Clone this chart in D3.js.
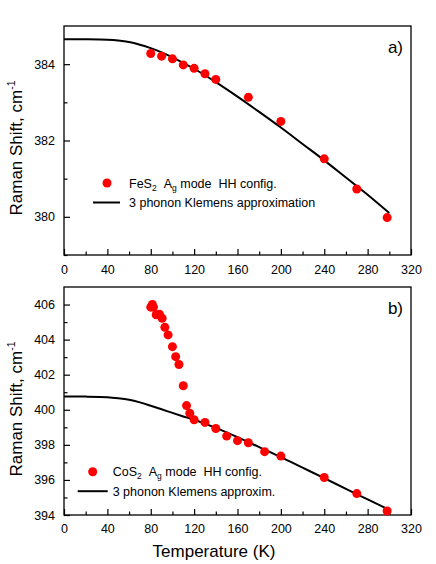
<!DOCTYPE html>
<html>
<head>
<meta charset="utf-8">
<title>Raman shift vs temperature</title>
<script src="https://cdn.jsdelivr.net/npm/d3@7"></script>
<style>
  body { margin: 0; background: #fff; }
  svg text { font-family: "Liberation Sans", Arial, sans-serif; fill: #000; }
</style>
</head>
<body>
<script>
var fesTemp  = [80, 90, 100, 110, 120, 130, 140, 170, 200, 240, 270, 298];
var fesShift = [384.28, 384.21, 384.14, 383.98, 383.89, 383.75, 383.60, 383.13, 382.50, 381.52, 380.73, 379.98];
// FeS2 Klemens curve
var fesFitTemp  = [0, 20, 40, 50, 60, 70, 80, 90, 100, 120, 140, 160, 180, 200, 220, 240, 260, 280, 300];
var fesFitShift = [384.65, 384.65, 384.64, 384.62, 384.58, 384.51, 384.42, 384.31, 384.18, 383.88, 383.53, 383.15, 382.75, 382.34, 381.91, 381.48, 381.03, 380.58, 380.10];

// CoS2 Ag mode, measured points
var cosTemp  = [80, 81.5, 82.5, 85, 88, 90.5, 93, 96, 100, 103, 106, 110, 113, 116, 120, 130, 140, 150, 160, 170, 185, 200, 240, 270, 298];
var cosShift = [405.85, 406.0, 405.85, 405.42, 405.45, 405.22, 404.70, 404.27, 403.60, 403.03, 402.58, 401.37, 400.24, 399.80, 399.43, 399.28, 398.93, 398.50, 398.24, 398.12, 397.61, 397.36, 396.14, 395.22, 394.23];
// CoS2 Klemens curve
var cosFitTemp  = [0, 20, 40, 50, 60, 70, 80, 90, 100, 110, 120, 140, 160, 180, 200, 220, 240, 260, 280, 300];
var cosFitShift = [400.75, 400.75, 400.72, 400.66, 400.57, 400.42, 400.23, 400.03, 399.82, 399.62, 399.43, 398.97, 398.44, 397.87, 397.30, 396.70, 396.10, 395.49, 394.89, 394.29];

// axis ticks
var xTicks = [0, 40, 80, 120, 160, 200, 240, 280, 320];
var xMinor = [20, 60, 100, 140, 180, 220, 260, 300];
var yTicksA = [380, 382, 384];
var yMinorA = [379, 381, 383];
var yTicksB = [394, 396, 398, 400, 402, 404, 406];
var yMinorB = [395, 397, 399, 401, 403, 405];

var width = 436, height = 564;
var left = 64, right = 411;

var svg = d3.select("body").append("svg")
    .attr("width", width)
    .attr("height", height);

var x = d3.scaleLinear().domain([0, 320]).range([left, right]);

function panel(p) {
  var y = d3.scaleLinear().domain(p.yDomain).range([p.bottom, p.top]);
  var g = svg.append("g");

  // minor ticks first, then major ticks with labels
  g.append("g").attr("transform", "translate(0," + p.bottom + ")")
    .call(d3.axisBottom(x).tickValues(xMinor).tickSize(-3.5).tickFormat(""));
  g.append("g").attr("transform", "translate(0," + p.bottom + ")")
    .call(d3.axisBottom(x).tickValues(xTicks).tickSize(-6).tickPadding(p.xPad).tickFormat(d3.format("d")));
  g.append("g").attr("transform", "translate(" + left + ",0)")
    .call(d3.axisLeft(y).tickValues(p.yMinor).tickSize(-3.5).tickFormat(""));
  g.append("g").attr("transform", "translate(" + left + ",0)")
    .call(d3.axisLeft(y).tickValues(p.yTicks).tickSize(-6).tickPadding(9).tickFormat(d3.format("d")));

  g.selectAll(".domain").remove();
  g.selectAll(".tick line").attr("stroke", "#000").attr("stroke-width", 1.2);
  g.selectAll(".tick text").attr("font-size", "12.5px")
    .style("font-family", "'Liberation Sans', Arial, sans-serif");

  // frame
  g.append("rect")
    .attr("x", left).attr("y", p.top)
    .attr("width", right - left).attr("height", p.bottom - p.top)
    .attr("fill", "none").attr("stroke", "#000").attr("stroke-width", 1.3);

  // fit curve
  var line = d3.line()
    .x(function(d) { return x(d[0]); })
    .y(function(d) { return y(d[1]); })
    .curve(d3.curveCatmullRom.alpha(0.5));
  g.append("path")
    .datum(d3.zip(p.fitT, p.fitW))
    .attr("d", line)
    .attr("fill", "none").attr("stroke", "#000").attr("stroke-width", 2);

  // measured points
  g.selectAll("circle.pt")
    .data(d3.zip(p.t, p.w))
    .enter().append("circle")
    .attr("class", "pt")
    .attr("cx", function(d) { return x(d[0]); })
    .attr("cy", function(d) { return y(d[1]); })
    .attr("r", 4.5)
    .attr("fill", "#ff0000");

  // y title
  var yt = g.append("text")
    .attr("transform", "translate(21.5," + p.titleY + ") rotate(-90)")
    .attr("text-anchor", "middle")
    .attr("font-size", "17px");
  yt.append("tspan").text("Raman Shift, cm");
  yt.append("tspan").attr("font-size", "10.5px").attr("dy", -7).text("-1");

  // panel label
  g.append("text")
    .attr("x", 403).attr("y", p.top + 27)
    .attr("text-anchor", "end")
    .attr("font-size", "17px")
    .text(p.label);

  // legend
  var lg = p.legend;
  g.append("circle").attr("cx", lg.dotX).attr("cy", lg.y).attr("r", 4.5).attr("fill", "#ff0000");
  var t1 = g.append("text").attr("x", lg.textX).attr("y", lg.y + 4.5).attr("font-size", "12.5px");
  t1.append("tspan").text(p.compound);
  t1.append("tspan").attr("font-size", "8.5px").attr("dy", 3).text("2");
  t1.append("tspan").attr("dy", -3).attr("dx", 7).text("A");
  t1.append("tspan").attr("font-size", "8.5px").attr("dy", 3).text("g");
  t1.append("tspan").attr("dy", -3).text(" mode\u00a0\u00a0HH config.");

  g.append("line")
    .attr("x1", lg.lineX1).attr("x2", lg.lineX2)
    .attr("y1", lg.y + 19.5).attr("y2", lg.y + 19.5)
    .attr("stroke", "#000").attr("stroke-width", 2);
  g.append("text").attr("x", lg.textX).attr("y", lg.y + 24).attr("font-size", "12.5px")
    .text(p.fitLabel);
}

panel({
  top: 26, bottom: 255, yDomain: [379, 385],
  yTicks: yTicksA, yMinor: yMinorA, xPad: 10,
  t: fesTemp, w: fesShift, fitT: fesFitTemp, fitW: fesFitShift,
  titleY: 148, label: "a)", compound: "FeS",
  fitLabel: "3 phonon Klemens approximation",
  legend: { dotX: 107, textX: 129, lineX1: 93, lineX2: 120, y: 183 }
});

panel({
  top: 287, bottom: 515, yDomain: [394, 407],
  yTicks: yTicksB, yMinor: yMinorB, xPad: 9,
  t: cosTemp, w: cosShift, fitT: cosFitTemp, fitW: cosFitShift,
  titleY: 409, label: "b)", compound: "CoS",
  fitLabel: "3 phonon Klemens approxim.",
  legend: { dotX: 92.7, textX: 112.7, lineX1: 77.7, lineX2: 107.7, y: 471.7 }
});

svg.append("text")
  .attr("x", 214).attr("y", 557)
  .attr("text-anchor", "middle")
  .attr("font-size", "17px")
  .text("Temperature (K)");
</script>
</body>
</html>
